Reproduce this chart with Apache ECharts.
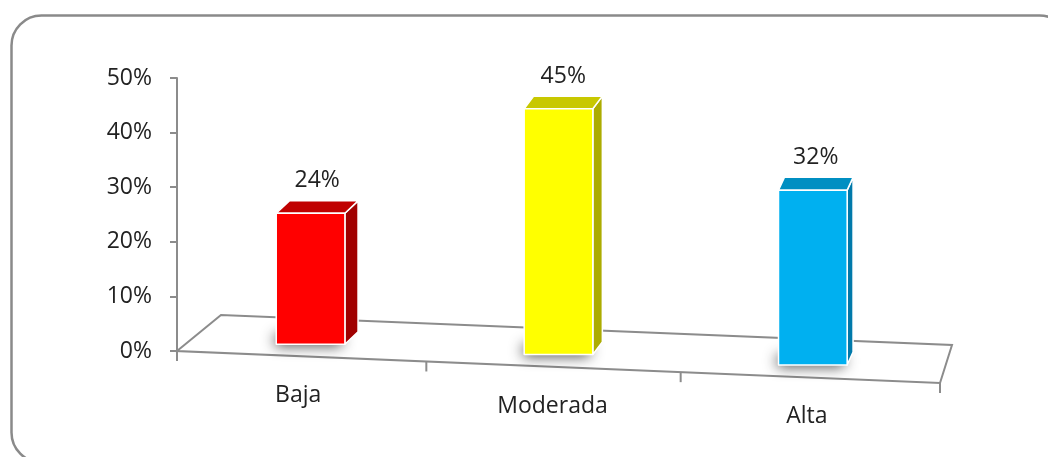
<!DOCTYPE html>
<html>
<head>
<meta charset="utf-8">
<script src="https://cdn.jsdelivr.net/npm/echarts@6/dist/echarts.min.js"></script>
<style>
  html, body { margin: 0; background: #fff; }
  #chart { width: 1048px; height: 457px; }
</style>
</head>
<body>
<div id="chart"></div>
<script>
const categories = ['Baja', 'Moderada', 'Alta'];
const values = [24, 45, 32];
const yTicks = [0, 10, 20, 30, 40, 50];

// front / side / top shades for each bar
const palette = [
    { front: '#ff0000', side: '#a00000', top: '#c00000' },
    { front: '#ffff00', side: '#acac00', top: '#c8c800' },
    { front: '#00b0f0', side: '#0079aa', top: '#008fc2' }
];

const textColor = '#222222';
const lineColor = '#8c8c8c';
const font = '23px "Open Sans", sans-serif';

// fake perspective of the Excel 3D floor
const slope = 0.042;            // front edge drops to the right
const depthLeft = [44, -36];    // back corner offset at the left end
const depthRight = [12, -38];   // back corner offset at the right end
const barDepth = 0.34;          // bars take about a third of the floor depth

const depthAt = (x, cs) => {
    const t = (x - cs.x) / cs.width;
    return [
        depthLeft[0] + (depthRight[0] - depthLeft[0]) * t,
        depthLeft[1] + (depthRight[1] - depthLeft[1]) * t
    ];
};

const renderFloor = (params, api) => {
    const cs = params.coordSys;
    const zeroY = api.coord([0, 0])[1];
    const frontY = x => zeroY + slope * (x - cs.x);
    const x0 = cs.x;
    const x1 = cs.x + cs.width;
    const dl = depthAt(x0, cs);
    const dr = depthAt(x1, cs);
    const pts = [
        [x0, zeroY],
        [x0 + dl[0], zeroY + dl[1]],
        [x1 + dr[0], frontY(x1) + dr[1]],
        [x1, frontY(x1)]
    ];
    const band = cs.width / categories.length;
    const tickXs = [x0, x1];
    for (let k = 1; k < categories.length; k++) tickXs.push(x0 + k * band - 5);

    const children = [{
        type: 'polygon',
        shape: { points: pts },
        style: { fill: 'none', stroke: lineColor, lineWidth: 2 }
    }];
    tickXs.forEach(x => {
        const y = frontY(x);
        children.push({
            type: 'line',
            shape: { x1: x, y1: y, x2: x, y2: y + 10 },
            style: { stroke: lineColor, lineWidth: 2 }
        });
    });
    return { type: 'group', children };
};

const renderBar = (params, api) => {
    const cs = params.coordSys;
    const i = api.value(0);
    const v = api.value(1);
    const zero = api.coord([i, 0]);
    const topPt = api.coord([i, v]);
    const band = api.size([1, 0])[0];
    const w = band * 0.27;
    const d = depthAt(zero[0], cs);
    // bars near the left wall sit a little further right
    const cx = zero[0] + Math.max(0, (d[0] - 28) * 0.6);
    const frontY = zero[1] + slope * (cx - cs.x);
    const bdx = d[0] * barDepth;
    const bdy = d[1] * barDepth;
    const base = frontY + bdy;
    const T = base - (zero[1] - topPt[1]);
    const L = cx - w / 2;
    const R = cx + w / 2;
    const c = palette[i];
    const edge = { stroke: '#ffffff', lineWidth: 1.5, lineJoin: 'round' };

    return {
        type: 'group',
        children: [
            {
                type: 'rect',
                shape: { x: L + 2, y: base - 12, width: w - 2, height: 10 },
                style: {
                    fill: '#606060',
                    shadowBlur: 14,
                    shadowColor: 'rgba(0,0,0,0.85)',
                    shadowOffsetX: -3,
                    shadowOffsetY: 3
                }
            },
            {
                type: 'polygon',
                shape: { points: [[R, T], [R + bdx, T + bdy], [R + bdx, base + bdy], [R, base]] },
                style: Object.assign({ fill: c.side }, edge)
            },
            {
                type: 'polygon',
                shape: { points: [[L, T], [L + bdx, T + bdy], [R + bdx, T + bdy], [R, T]] },
                style: Object.assign({ fill: c.top }, edge)
            },
            {
                type: 'rect',
                shape: { x: L, y: T, width: w, height: base - T },
                style: Object.assign({ fill: c.front }, edge)
            },
            {
                type: 'text',
                style: {
                    x: cx + bdx / 2, y: T + bdy - 20,
                    text: v + '%',
                    fill: textColor, font: font,
                    align: 'center', verticalAlign: 'middle'
                }
            },
            {
                type: 'text',
                style: {
                    x: zero[0] - 6, y: zero[1] + slope * (zero[0] - cs.x) + 39,
                    text: categories[i],
                    fill: textColor, font: font,
                    align: 'center', verticalAlign: 'middle'
                }
            }
        ]
    };
};

const chart = echarts.init(document.getElementById('chart'));

chart.setOption({
    animation: false,
    backgroundColor: '#ffffff',
    graphic: [{
        type: 'rect',
        left: 9, top: 13,
        shape: { width: 1058, height: 447, r: 30 },
        style: { fill: 'none', stroke: '#8a8a8a', lineWidth: 2.5 },
        z: 0
    }],
    grid: { left: 177, right: 108, top: 78, bottom: 106 },
    xAxis: {
        type: 'category',
        data: categories,
        axisLine: { show: false },
        axisTick: { show: false },
        axisLabel: { show: false }
    },
    yAxis: {
        type: 'value',
        min: yTicks[0],
        max: yTicks[yTicks.length - 1],
        interval: yTicks[1] - yTicks[0],
        axisLine: { show: true, lineStyle: { color: lineColor, width: 2 } },
        axisTick: { show: true, length: 7, lineStyle: { color: lineColor, width: 2 } },
        splitLine: { show: false },
        axisLabel: {
            margin: 25,
            formatter: '{value}%',
            color: textColor,
            fontFamily: '"Open Sans", sans-serif',
            fontSize: 23
        }
    },
    series: [
        {
            type: 'custom',
            name: 'floor',
            renderItem: renderFloor,
            data: [[0, 0]],
            clip: false,
            z: 1
        },
        {
            type: 'custom',
            name: 'valores',
            renderItem: renderBar,
            data: values.map((v, i) => [i, v]),
            encode: { x: 0, y: 1 },
            clip: false,
            z: 2
        }
    ]
});
</script>
</body>
</html>
